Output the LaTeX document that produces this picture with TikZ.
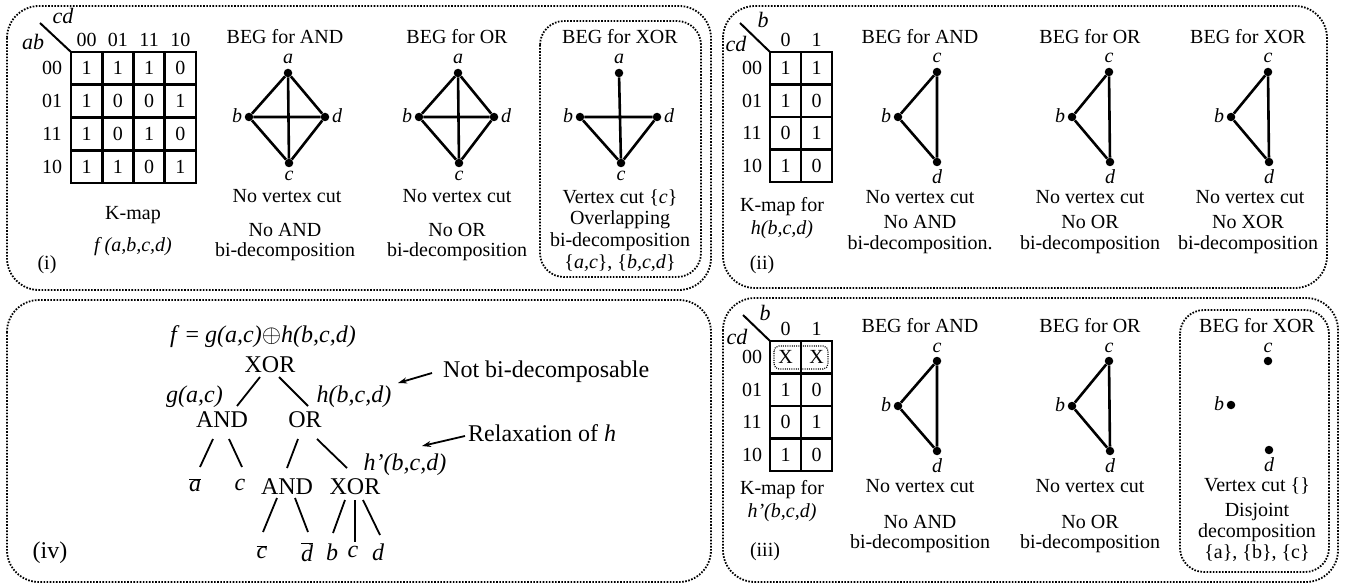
\documentclass[tikz,border=0pt]{standalone}
\usepackage{fontspec}
\setmainfont{Liberation Serif}
\usetikzlibrary{arrows.meta,calc}
\begin{document}
\begin{tikzpicture}[x=1pt,y=-1pt,
  txt/.style={inner sep=0pt,font=\fontsize{20}{22}\selectfont},
  big/.style={inner sep=0pt,font=\fontsize{24}{26}\selectfont},
  vlab/.style={inner sep=0pt,font=\fontsize{20}{22}\selectfont\itshape},
  klab/.style={inner sep=0pt,font=\fontsize{22}{24}\selectfont\itshape},
  vtx/.style={circle,fill=black,inner sep=0pt,minimum size=8.5pt},
  edge/.style={line width=2.6pt},
  kgrid/.style={line width=2.8pt},
  panel/.style={line width=1.8pt,dash pattern=on 1.6pt off 1.5pt,rounded corners=32pt},
  subpanel/.style={line width=1.8pt,dash pattern=on 1.6pt off 1.5pt,rounded corners=24pt},
  tline/.style={line width=1.8pt},
  ann/.style={line width=1.8pt,-{Stealth[length=9pt,width=6pt]}}]
\useasboundingbox (0,0) rectangle (1348,585);

% ---------- panel frames ----------
\draw[panel] (7,6) rectangle (711,290);
\draw[panel] (723,6) rectangle (1327,288);
\draw[panel] (7,300) rectangle (711,582);
\draw[panel] (723,298) rectangle (1338,582);
\draw[subpanel] (540,21) rectangle (701,277);
\draw[subpanel] (1180,310) rectangle (1329,572);

% ---------- (i) K-map of f ----------
\draw[kgrid] (71,52) rectangle (196,183);
\foreach \x in {102.25,133.5,164.75} \draw[kgrid] (\x,52) -- (\x,183);
\foreach \y in {84.75,117.5,150.25} \draw[kgrid] (71,\y) -- (196,\y);
\foreach \row [count=\r from 0] in {{1,1,1,0},{1,0,0,1},{1,0,1,0},{1,1,0,1}}
  \foreach \v [count=\c from 0] in \row
    \node[txt] (f\r\c) at ({71+31.25*(\c+0.5)},{52+32.75*(\r+0.5)}) {\v};
\foreach \t [count=\c from 0] in {00,01,11,10}
  \node[txt] (fc\c) at ({71+31.25*(\c+0.5)},40) {\t};
\foreach \t [count=\r from 0] in {00,01,11,10}
  \node[txt] (fr\r) at (52,{52+32.75*(\r+0.5)}) {\t};
\draw[line width=2pt] (40,23) -- (71,52);
\node[klab] (fcd) at (63,16) {cd};
\node[klab] (fab) at (33,42) {ab};
\node[txt] (fkm) at (133,215) {K-map};
\node[txt] (ffn) at (133,247) {\itshape f (a,b,c,d)};
\node[txt] (flab) at (47,265) {(i)};

% ---------- (i) BEG for AND ----------
\node[txt] (iand) at (285,37) {BEG for AND};
\node[vtx] (ia) at (288,73) {};
\node[vtx] (ib) at (249,117) {};
\node[vtx] (id) at (325,117) {};
\node[vtx] (ic) at (289,163) {};
\draw[edge] (ia) -- (ib) (ia) -- (id) (ia) -- (ic) (ib) -- (id) (ib) -- (ic) (id) -- (ic);
\node[vlab] (ial) at (288,59) {a};
\node[vlab] (ibl) at (237,116) {b};
\node[vlab] (idl) at (337,116) {d};
\node[vlab] (icl) at (289,176) {c};
\node[txt] (icut) at (287,196) {No vertex cut};
\node[txt] (idec1) at (285,230) {No AND};
\node[txt] (idec2) at (285,252) {bi-decomposition};

% ---------- (i) BEG for OR ----------
\node[txt] (ior) at (457,37) {BEG for OR};
\node[vtx] (oa) at (458,73) {};
\node[vtx] (ob) at (419,117) {};
\node[vtx] (od) at (494,117) {};
\node[vtx] (oc) at (459,163) {};
\draw[edge] (oa) -- (ob) (oa) -- (od) (oa) -- (oc) (ob) -- (od) (ob) -- (oc) (od) -- (oc);
\node[vlab] (oal) at (458,59) {a};
\node[vlab] (obl) at (407,116) {b};
\node[vlab] (odl) at (506,116) {d};
\node[vlab] (ocl) at (459,176) {c};
\node[txt] (ocut) at (457,196) {No vertex cut};
\node[txt] (odec1) at (457,230) {No OR};
\node[txt] (odec2) at (457,252) {bi-decomposition};

% ---------- (i) BEG for XOR ----------
\node[txt] (ixor) at (620,37) {BEG for XOR};
\node[vtx] (xa) at (619,73) {};
\node[vtx] (xb) at (580,117) {};
\node[vtx] (xd) at (657,117) {};
\node[vtx] (xc) at (621,163) {};
\draw[edge] (xa) -- (xc) (xb) -- (xd) (xb) -- (xc) (xd) -- (xc);
\node[vlab] (xal) at (619,59) {a};
\node[vlab] (xbl) at (568,116) {b};
\node[vlab] (xdl) at (669,116) {d};
\node[vlab] (xcl) at (621,176) {c};
\node[txt] (xcut) at (620,198) {Vertex cut \{\textit{c}\}};
\node[txt] (xdec1) at (620,220) {Overlapping};
\node[txt] (xdec2) at (620,242) {bi-decomposition};
\node[txt] (xdec3) at (620,263) {\{\textit{a,c}\}, \{\textit{b,c,d}\}};

% ---------- (ii) K-map of h ----------
\draw[kgrid] (770,52) rectangle (832,182);
\draw[kgrid] (801,52) -- (801,182);
\foreach \y in {84.5,117,149.5} \draw[kgrid] (770,\y) -- (832,\y);
\foreach \row [count=\r from 0] in {{1,1},{1,0},{0,1},{1,0}}
  \foreach \v [count=\c from 0] in \row
    \node[txt] (h\r\c) at ({770+31*(\c+0.5)},{52+32.5*(\r+0.5)}) {\v};
\foreach \t [count=\c from 0] in {0,1}
  \node[txt] (hc\c) at ({770+31*(\c+0.5)},40) {\t};
\foreach \t [count=\r from 0] in {00,01,11,10}
  \node[txt] (hr\r) at (752,{52+32.5*(\r+0.5)}) {\t};
\draw[line width=2pt] (740,23) -- (770,52);
\node[klab] (hb) at (763,20) {b};
\node[klab] (hcd) at (736,44) {cd};
\node[txt] (hkm) at (782,207) {K-map for};
\node[txt] (hfn) at (782,230) {\itshape h(b,c,d)};
\node[txt] (hlab) at (762,265) {(ii)};

% ---------- (ii) graphs ----------
\node[txt] (hand) at (920,37) {BEG for AND};
\node[vtx] (hac) at (937,72) {};
\node[vtx] (hab) at (898,117) {};
\node[vtx] (had) at (937,162) {};
\draw[edge] (hac) -- (hab) -- (had) -- (hac);
\node[vlab] (hacl) at (937,58) {c};
\node[vlab] (habl) at (886,116) {b};
\node[vlab] (hadl) at (937,177) {d};
\node[txt] (hacut) at (920,197) {No vertex cut};
\node[txt] (hadec1) at (920,222) {No AND};
\node[txt] (hadec2) at (920,245) {bi-decomposition.};

\node[txt] (hor) at (1090,37) {BEG for OR};
\node[vtx] (hoc) at (1109,72) {};
\node[vtx] (hob) at (1072,117) {};
\node[vtx] (hod) at (1110,162) {};
\draw[edge] (hoc) -- (hob) -- (hod) -- (hoc);
\node[vlab] (hocl) at (1109,58) {c};
\node[vlab] (hobl) at (1060,116) {b};
\node[vlab] (hodl) at (1110,177) {d};
\node[txt] (hocut) at (1090,197) {No vertex cut};
\node[txt] (hodec1) at (1090,222) {No OR};
\node[txt] (hodec2) at (1090,245) {bi-decomposition};

\node[txt] (hxor) at (1248,37) {BEG for XOR};
\node[vtx] (hxc) at (1268,72) {};
\node[vtx] (hxb) at (1231,117) {};
\node[vtx] (hxd) at (1269,162) {};
\draw[edge] (hxc) -- (hxb) -- (hxd) -- (hxc);
\node[vlab] (hxcl) at (1268,58) {c};
\node[vlab] (hxbl) at (1219,116) {b};
\node[vlab] (hxdl) at (1269,177) {d};
\node[txt] (hxcut) at (1250,197) {No vertex cut};
\node[txt] (hxdec1) at (1248,222) {No XOR};
\node[txt] (hxdec2) at (1248,245) {bi-decomposition};

% ---------- (iii) K-map of h' ----------
\draw[kgrid] (770,341) rectangle (832,471);
\draw[kgrid] (801,341) -- (801,471);
\foreach \y in {373.5,406,438.5} \draw[kgrid] (770,\y) -- (832,\y);
\foreach \row [count=\r from 0] in {{X,X},{1,0},{0,1},{1,0}}
  \foreach \v [count=\c from 0] in \row
    \node[txt] (k\r\c) at ({770+31*(\c+0.5)},{341+32.5*(\r+0.5)}) {\v};
\draw[line width=1.2pt,dash pattern=on 1pt off 1.2pt,rounded corners=5pt] (774,346) rectangle (828,369);
\foreach \t [count=\c from 0] in {0,1}
  \node[txt] (kc\c) at ({770+31*(\c+0.5)},329) {\t};
\foreach \t [count=\r from 0] in {00,01,11,10}
  \node[txt] (kr\r) at (752,{341+32.5*(\r+0.5)}) {\t};
\draw[line width=2pt] (743,315) -- (770,341);
\node[klab] (kb) at (765,313) {b};
\node[klab] (kcd) at (737,337) {cd};
\node[txt] (kkm) at (782,490) {K-map for};
\node[txt] (kfn) at (782,513) {\itshape h’(b,c,d)};
\node[txt] (klab3) at (765,552) {(iii)};

% ---------- (iii) graphs ----------
\node[txt] (kand) at (920,326) {BEG for AND};
\node[vtx] (kac) at (937,361) {};
\node[vtx] (kab) at (898,406) {};
\node[vtx] (kad) at (937,451) {};
\draw[edge] (kac) -- (kab) -- (kad) -- (kac);
\node[vlab] (kacl) at (937,348) {c};
\node[vlab] (kabl) at (886,405) {b};
\node[vlab] (kadl) at (937,466) {d};
\node[txt] (kacut) at (920,486) {No vertex cut};
\node[txt] (kadec1) at (920,522) {No AND};
\node[txt] (kadec2) at (920,544) {bi-decomposition};

\node[txt] (kor) at (1090,326) {BEG for OR};
\node[vtx] (koc) at (1109,361) {};
\node[vtx] (kob) at (1072,406) {};
\node[vtx] (kod) at (1110,451) {};
\draw[edge] (koc) -- (kob) -- (kod) -- (koc);
\node[vlab] (kocl) at (1109,348) {c};
\node[vlab] (kobl) at (1060,405) {b};
\node[vlab] (kodl) at (1110,466) {d};
\node[txt] (kocut) at (1090,486) {No vertex cut};
\node[txt] (kodec1) at (1090,522) {No OR};
\node[txt] (kodec2) at (1090,544) {bi-decomposition};

\node[txt] (kxor) at (1257,326) {BEG for XOR};
\node[vtx] (kxc) at (1268,361) {};
\node[vtx] (kxb) at (1231,405) {};
\node[vtx] (kxd) at (1269,450) {};
\node[vlab] (kxcl) at (1268,348) {c};
\node[vlab] (kxbl) at (1219,404) {b};
\node[vlab] (kxdl) at (1269,465) {d};
\node[txt] (kxcut) at (1257,486) {Vertex cut \{\}};
\node[txt] (kxdec1) at (1257,512) {Disjoint};
\node[txt] (kxdec2) at (1257,533) {decomposition};
\node[txt] (kxdec3) at (1257,553) {\{a\}, \{b\}, \{c\}};

% ---------- (iv) decomposition tree ----------
\node[big] (tf) at (263,337) {\textit{f} = \textit{g(a,c)}$\oplus$\textit{h(b,c,d)}};
\node[big] (tx) at (270,365) {XOR};
\node[big,anchor=east] (tg) at (223,397) {\itshape g(a,c)};
\node[big] (th) at (354,397) {\itshape h(b,c,d)};
\node[big] (tand) at (222,420) {AND};
\node[big] (tor) at (305,420) {OR};
\node[big] (tna) at (195,485) {$\overline{\mbox{\itshape a}}$};
\node[big] (tc) at (240,485) {\itshape c};
\node[big] (tand2) at (287,487) {AND};
\node[big] (txor2) at (355,487) {XOR};
\node[big] (th2) at (405,465) {\itshape h’(b,c,d)};
\node[big] (tnc) at (262,552) {$\overline{\mbox{\itshape c}}$};
\node[big] (tnd) at (307,552) {$\overline{\mbox{\itshape d}}$};
\node[big] (tb) at (332,552) {\itshape b};
\node[big] (tcc) at (353,552) {\itshape c};
\node[big] (td) at (378,552) {\itshape d};
\node[big] (tlab) at (50,553) {(iv)};

\draw[tline] ($(tx)+(-10,12)$) -- ($(tand)+(15,-14)$);
\draw[tline] ($(tx)+(9,12)$) -- ($(tor)+(3,-14)$);
\draw[tline] ($(tand)+(-9,19)$) -- ($(tna)+(5,-18)$);
\draw[tline] ($(tand)+(7,19)$) -- ($(tc)+(2,-18)$);
\draw[tline] ($(tor)+(-7,19)$) -- ($(tand2)+(0,-19)$);
\draw[tline] ($(tor)+(12,19)$) -- ($(txor2)+(-8,-19)$);
\draw[tline] ($(tand2)+(-10,11)$) -- ($(tnc)+(1,-20)$);
\draw[tline] ($(tand2)+(8,11)$) -- ($(tnd)+(1,-20)$);
\draw[tline] ($(txor2)+(-10,13)$) -- ($(tb)+(1,-19)$);
\draw[tline] ($(txor2)+(0,13)$) -- ($(tcc)+(2,-10)$);
\draw[tline] ($(txor2)+(8,13)$) -- ($(td)+(2,-17)$);

\node[big,anchor=west] (tnbd) at (443,372) {Not bi-decomposable};
\node[big,anchor=west] (trel) at (468,433) {Relaxation of \textit{h}};
\draw[ann] ($(tnbd.west)+(-11,1)$) -- ($(th)+(44,-14)$);
\draw[ann] ($(trel.west)+(-3,3)$) -- ($(th2)+(17,-19)$);
\end{tikzpicture}
\end{document}
